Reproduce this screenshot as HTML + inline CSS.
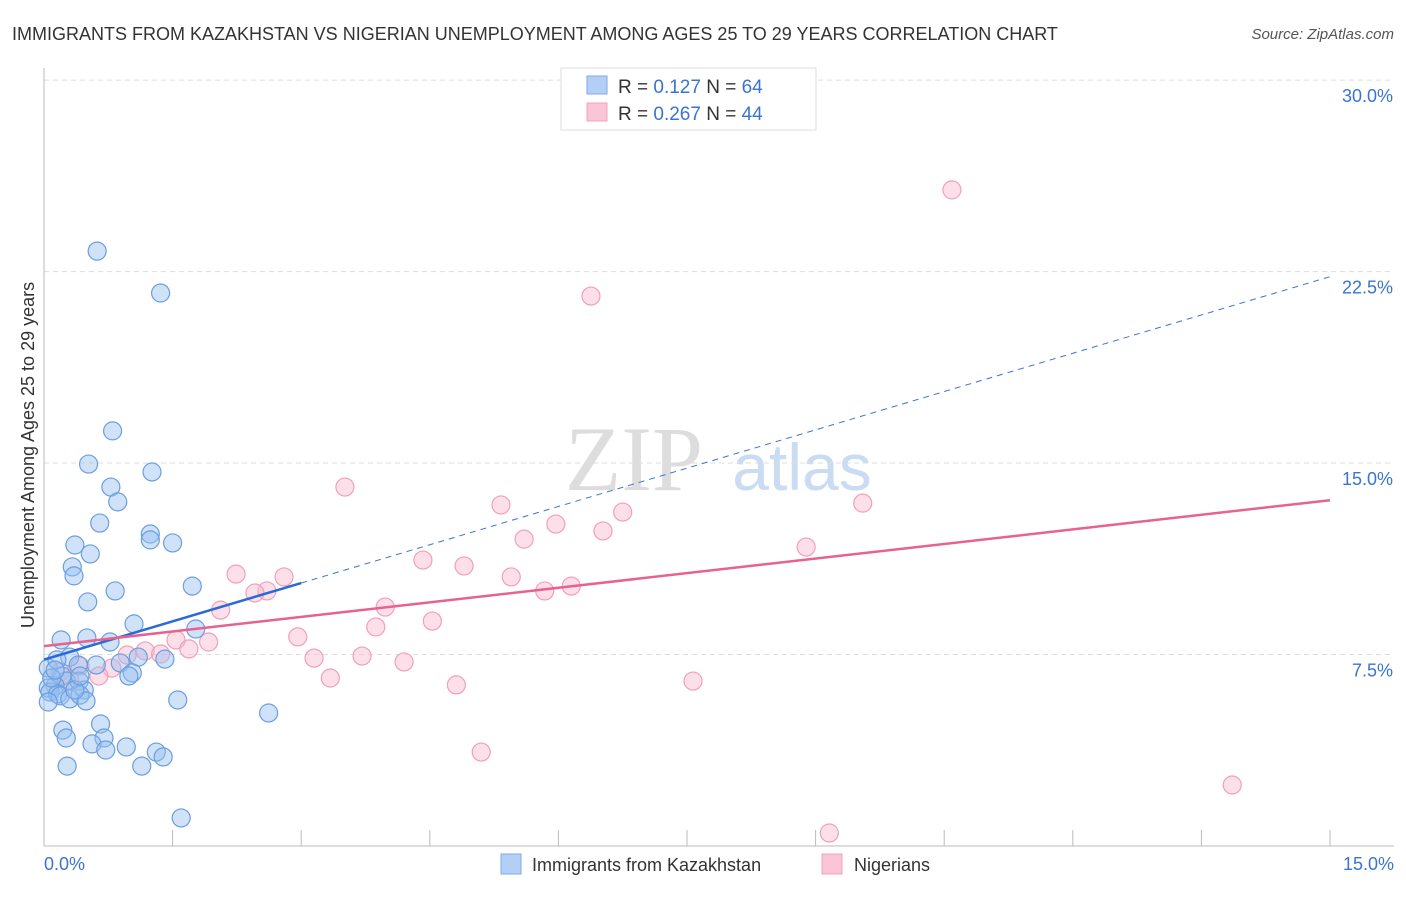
<!DOCTYPE html>
<html><head><meta charset="utf-8"><style>
body{margin:0;background:#fff;font-family:"Liberation Sans",sans-serif;}
</style></head><body>
<svg width="1406" height="892" xmlns="http://www.w3.org/2000/svg" id="chart">
<text x="12" y="40" font-size="18" fill="#333">IMMIGRANTS FROM KAZAKHSTAN VS NIGERIAN UNEMPLOYMENT AMONG AGES 25 TO 29 YEARS CORRELATION CHART</text>
<text x="1394" y="39" font-size="15" fill="#555" font-style="italic" text-anchor="end">Source: ZipAtlas.com</text>
<g><text x="634" y="490" font-size="92" fill="#ddd" font-family="Liberation Serif" text-anchor="middle">ZIP</text><text x="802" y="490" font-size="66" fill="#c9dcf3" text-anchor="middle">atlas</text></g>
<g id="grid"></g><g id="axes"></g><g id="marks"></g>
<text transform="translate(34,455) rotate(-90)" font-size="18" fill="#333" text-anchor="middle">Unemployment Among Ages 25 to 29 years</text>
<text x="44" y="870" font-size="18" fill="#3a74d0">0.0%</text>
<text x="1394" y="870" font-size="18" fill="#3a74d0" text-anchor="end">15.0%</text>
<g>
<rect x="561" y="68" width="255" height="62" fill="#fff" stroke="#ddd"/>
<rect x="587" y="76" width="20" height="18" fill="#b3cff5" stroke="#7ea8e6"/>
<rect x="587" y="103" width="20" height="18" fill="#fac5d6" stroke="#f0a4bd"/>
<text x="618" y="93" font-size="19" fill="#333">R = <tspan fill="#3a74d0">0.127</tspan>   N = <tspan fill="#3a74d0">64</tspan></text>
<text x="618" y="120" font-size="19" fill="#333">R = <tspan fill="#3a74d0">0.267</tspan>   N = <tspan fill="#3a74d0">44</tspan></text>
</g>
<g>
<rect x="501" y="854" width="20" height="20" fill="#b3cff5" stroke="#7ea8e6"/>
<text x="532" y="871" font-size="18" fill="#333">Immigrants from Kazakhstan</text>
<rect x="822" y="854" width="20" height="20" fill="#fac5d6" stroke="#f0a4bd"/>
<text x="854" y="871" font-size="18" fill="#333">Nigerians</text>
</g>
</svg>
<script>
const yTicks=[7.5,15,22.5,30];
const yTickLabels=["7.5%","15.0%","22.5%","30.0%"];
const xTicks=[0,1.5,3,4.5,6,7.5,9,10.5,12,13.5,15];
const blueX=[0.62,1.36,0.80,0.52,1.26,0.78,0.86,0.65,1.24,1.24,1.50,0.36,0.54,0.33,0.35,1.73,0.83,0.51,1.05,1.77,0.20,0.50,0.77,0.30,1.41,0.05,0.15,1.10,0.89,0.61,1.03,0.99,0.40,0.21,0.26,0.41,0.13,0.05,0.07,0.47,0.16,0.19,0.30,0.42,0.49,0.05,0.66,1.56,2.62,0.22,0.26,0.70,0.56,0.72,0.96,1.31,1.39,0.27,1.14,1.60,0.36,0.09,0.42,0.13];
const blueY=[23.3,21.66,16.26,14.96,14.65,14.06,13.48,12.65,12.22,11.99,11.87,11.79,11.44,10.93,10.58,10.18,9.99,9.56,8.70,8.50,8.07,8.15,7.99,7.40,7.32,6.97,7.29,7.40,7.17,7.09,6.78,6.66,7.09,6.66,6.46,6.46,6.27,6.19,6.03,6.11,5.95,5.88,5.76,5.91,5.68,5.64,4.78,5.72,5.21,4.54,4.23,4.23,4.00,3.76,3.88,3.68,3.49,3.13,3.13,1.10,6.11,6.58,6.66,6.89];
const pinkX=[10.59,6.38,3.51,5.33,9.55,6.75,5.97,6.52,5.60,8.89,4.42,4.90,2.24,2.80,5.45,6.15,2.60,2.46,5.84,3.98,2.06,3.87,4.53,2.96,1.54,1.92,1.18,1.36,1.69,3.15,3.71,4.20,0.97,0.42,0.79,3.34,0.64,4.81,7.57,5.10,13.86,9.16,0.19,0.30];
const pinkY=[25.70,21.54,14.06,13.36,13.43,13.08,12.61,12.34,12.02,11.71,11.20,10.97,10.65,10.54,10.54,10.18,9.99,9.91,9.99,9.36,9.24,8.58,8.81,8.19,8.07,7.99,7.64,7.52,7.72,7.36,7.44,7.21,7.48,7.05,6.97,6.58,6.66,6.31,6.46,3.68,2.39,0.51,6.82,6.50];
const blueTrend=[7.3,1.0,3.0]; // intercept, slope, solid end
const pinkTrend=[7.83,0.381];
const X0=44,X1=1330,Y0=846,PY=25.53;
const sx=v=>X0+(X1-X0)*v/15, sy=v=>Y0-v*PY;
const NS="http://www.w3.org/2000/svg";
function mk(t,a,p){const e=document.createElementNS(NS,t);for(const k in a)e.setAttribute(k,a[k]);p.appendChild(e);return e;}
const grid=document.getElementById('grid'),axes=document.getElementById('axes'),marks=document.getElementById('marks');
yTicks.forEach((v,i)=>{
 const l=mk('line',{x1:X0,x2:1394,y1:sy(v),y2:sy(v),stroke:'#ddd','stroke-dasharray':'5,4'},grid);
 
 
 const t=mk('text',{x:1393,y:sy(v)+22,'font-size':18,fill:'#3a74d0','text-anchor':'end'},grid);
 t.textContent=yTickLabels[i];
 
 
});
const ya=mk('line',{x1:X0,x2:X0,y1:68,y2:Y0,stroke:'#bbb'},axes);


const xa=mk('line',{x1:X0,x2:1394,y1:Y0,y2:Y0,stroke:'#bbb'},axes);


xTicks.forEach(v=>{const t=mk('line',{x1:sx(v),x2:sx(v),y1:Y0,y2:Y0-16,stroke:'#bbb'},axes);
 
 });
pinkX.forEach((x,i)=>{const c=mk('circle',{cx:sx(x),cy:sy(pinkY[i]),r:9,fill:'rgba(248,185,205,0.45)',stroke:'#f0a0b8','stroke-width':1.2},marks);
 
 });
blueX.forEach((x,i)=>{const c=mk('circle',{cx:sx(x),cy:sy(blueY[i]),r:9,fill:'rgba(150,190,240,0.45)',stroke:'#6a9ee0','stroke-width':1.2},marks);
 
 });
const bd=mk('line',{x1:sx(blueTrend[2]),y1:sy(blueTrend[0]+blueTrend[1]*blueTrend[2]),x2:sx(15),y2:sy(blueTrend[0]+blueTrend[1]*15),stroke:'#3a74d0','stroke-width':1,'stroke-dasharray':'6,5'},marks);


const bs=mk('line',{x1:sx(0),y1:sy(blueTrend[0]),x2:sx(blueTrend[2]),y2:sy(blueTrend[0]+blueTrend[1]*blueTrend[2]),stroke:'#2a6ad6','stroke-width':2.5},marks);


const ps=mk('line',{x1:sx(0),y1:sy(pinkTrend[0]),x2:sx(15),y2:sy(pinkTrend[0]+pinkTrend[1]*15),stroke:'#e8628f','stroke-width':2.5},marks);


</script>
</body></html>
